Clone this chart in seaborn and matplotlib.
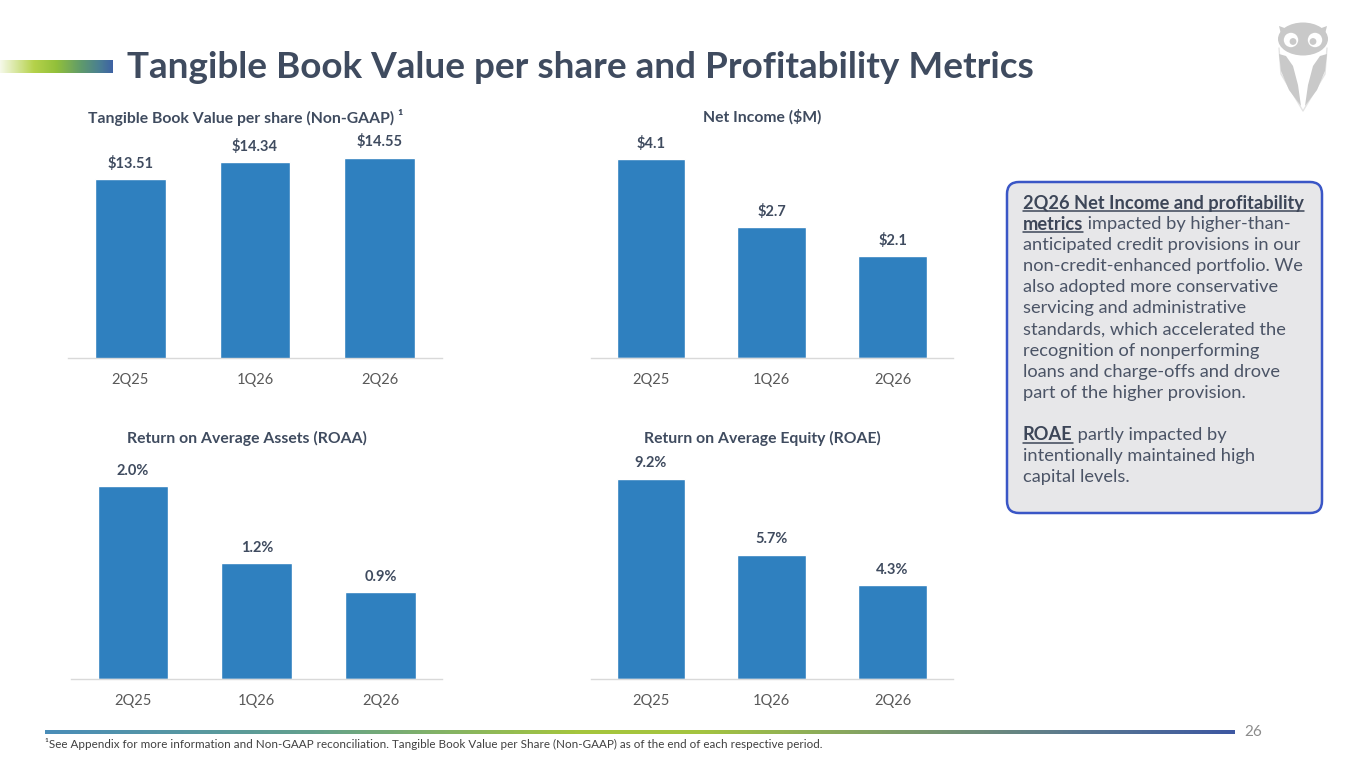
import numpy as np
import pandas as pd
import matplotlib
matplotlib.use('Agg')
import matplotlib.pyplot as plt
import seaborn as sns
from matplotlib.colors import LinearSegmentedColormap
from matplotlib.patches import FancyBboxPatch, Ellipse, Circle, Polygon
from matplotlib.lines import Line2D

# ---------------- data ----------------
periods = ['2Q25', '1Q26', '2Q26']
tbv_per_share = [13.51, 14.34, 14.55]
net_income = [4.1, 2.7, 2.1]
roaa = [2.0, 1.2, 0.9]
roae = [9.2, 5.7, 4.3]

panel_titles = ['Tangible Book Value per share (Non-GAAP) \u00b9',
                'Net Income ($M)',
                'Return on Average Assets (ROAA)',
                'Return on Average Equity (ROAE)']
label_formats = ['${:.2f}', '${:.1f}', '{:.1f}%', '{:.1f}%']

main_title = 'Tangible Book Value per share and Profitability Metrics'
footnote = ('\u00b9See Appendix for more information and Non-GAAP reconciliation. '
            'Tangible Book Value per Share (Non-GAAP) as of the end of each respective period.')
page_number = '26'

box_lines = [
    [('2Q26 Net Income and profitability', True)],
    [('metrics', True), (' impacted by higher-than-', False)],
    [('anticipated credit provisions in our', False)],
    [('non-credit-enhanced portfolio. We', False)],
    [('also adopted more conservative', False)],
    [('servicing and administrative', False)],
    [('standards, which accelerated the', False)],
    [('recognition of nonperforming', False)],
    [('loans and charge-offs and drove', False)],
    [('part of the higher provision.', False)],
    [],
    [('ROAE', True), (' partly impacted by', False)],
    [('intentionally maintained high', False)],
    [('capital levels.', False)],
]

# ---------------- style ----------------
W, H = 1365, 768
BAR = '#2F80BF'
DARK = '#3f4b5f'
TICK = '#595959'

sns.set_theme(style='white')
plt.rcParams['font.family'] = ['Lato', 'DejaVu Sans']

fig = plt.figure(figsize=(W / 100, H / 100), dpi=100)
fig.patch.set_facecolor('white')

bg = fig.add_axes([0, 0, 1, 1])
bg.set_xlim(0, W)
bg.set_ylim(H, 0)
bg.axis('off')
bg.patch.set_alpha(0)

renderer = fig.canvas.get_renderer()


def fit(t, target):
    for _ in range(3):
        w = t.get_window_extent(renderer).width
        t.set_fontsize(t.get_fontsize() * target / w)
    return t.get_fontsize()


def rect(l, r, top, bottom):
    return [l / W, 1 - bottom / H, (r - l) / W, (bottom - top) / H]


# ---------------- decorative gradients ----------------
top_cmap = LinearSegmentedColormap.from_list('top', [
    (0, '#f6f9ea'), (0.3, '#b5d24a'), (0.5, '#92c03a'), (0.72, '#5f9a6c'),
    (0.88, '#4a7f92'), (1, '#3e62a4')])
grad = np.linspace(0, 1, 256)[None, :]
bg.imshow(grad, cmap=top_cmap, extent=(0, 113, 73, 60), aspect='auto', zorder=1)

foot_cmap = LinearSegmentedColormap.from_list('foot', [
    (0, '#4a8db8'), (0.22, '#62a08e'), (0.45, '#a6c63c'), (0.55, '#a4c440'),
    (0.72, '#7d9c6a'), (0.87, '#5a7890'), (1, '#3d58a2')])
bg.imshow(grad, cmap=foot_cmap, extent=(45, 1235, 734, 730), aspect='auto', zorder=1)
bg.set_xlim(0, W)
bg.set_ylim(H, 0)

# ---------------- title & footer ----------------
t = bg.text(127, 78, main_title, fontsize=27, fontweight='bold', color=DARK,
            ha='left', va='baseline')
fit(t, 908)

fn = bg.text(45, 744, footnote, fontsize=7.5, color='#404040', ha='left', va='center')
fit(fn, 777)

bg.text(1244, 732, page_number, fontsize=11, color='#8c8c8c', ha='left', va='center')

# ---------------- owl logo ----------------
OWL = '#c9c9c9'
cx = 1303
bg.add_patch(Ellipse((cx, 39), 50, 33, fc=OWL, ec='none', zorder=2))
bg.add_patch(Polygon([(1279, 26), (1290, 30), (1282, 38)], closed=True, fc=OWL, ec='none', zorder=2))
bg.add_patch(Polygon([(2 * cx - 1279, 26), (2 * cx - 1290, 30), (2 * cx - 1282, 38)],
                     closed=True, fc=OWL, ec='none', zorder=2))
for ex in (1291, 2 * cx - 1291):
    bg.add_patch(Circle((ex, 40), 7.2, fc='white', ec='none', zorder=3))
bg.add_patch(Circle((1293, 41.5), 3.4, fc=OWL, ec='none', zorder=4))
bg.add_patch(Circle((2 * cx - 1293, 41.5), 3.4, fc=OWL, ec='none', zorder=4))
wing = [(1279, 54), (1281, 71), (1289, 90), (1301, 106), (1298, 85), (1293, 66), (1286, 56)]
bg.add_patch(Polygon(wing, closed=True, fc=OWL, ec='none', zorder=2))
bg.add_patch(Polygon([(2 * cx - x, y) for x, y in wing], closed=True, fc=OWL, ec='none', zorder=2))
bg.add_line(Line2D([1279, 1281, cx, 2 * cx - 1281, 2 * cx - 1279], [48, 74, 111, 74, 48],
                   color='#e4e4e4', lw=1, zorder=1))

# ---------------- text box ----------------
bg.add_patch(FancyBboxPatch((1007, 182), 315, 331, boxstyle='round,pad=0,rounding_size=12',
                            fc='#e7e7e9', ec='#3a56c6', lw=1.8, zorder=2))
probe = bg.text(1023, 300, 'non-credit-enhanced portfolio. We', fontsize=12)
box_fs = fit(probe, 280)
probe.remove()

y0, dy = 203, 21.08
for i, segs in enumerate(box_lines):
    y = y0 + i * dy
    x = 1023
    for txt, bold in segs:
        tt = bg.text(x, y, txt, fontsize=box_fs, fontweight='bold' if bold else 'normal',
                     color='#3d4658' if bold else '#4b5466', ha='left', va='center', zorder=3)
        bb = tt.get_window_extent(renderer)
        x1 = bb.x1
        if bold:
            bg.add_line(Line2D([x, x1], [y + 8, y + 8], color='#3d4658', lw=1.1, zorder=3))
        x = x1

# ---------------- charts ----------------
panels = [
    (tbv_per_share, rect(68.25, 441.75, 140, 358), (4.78, 15.42), (246, 117)),
    (net_income, rect(590.6, 952.9, 140, 358), (0, 4.495), (762, 117)),
    (roaa, rect(71.1, 442.4, 460, 679), (0, 2.27), (247, 438)),
    (roae, rect(590.6, 952.9, 460, 679), (0, 10.05), (762, 438)),
]

title_texts = []
for (vals, r, yl, tpos), title, fmt in zip(panels, panel_titles, label_formats):
    ax = fig.add_axes(r, facecolor='none')
    df = pd.DataFrame({'period': periods, 'value': vals})
    sns.barplot(data=df, x='period', y='value', ax=ax, color=BAR, width=0.57, saturation=1)
    ax.set_xlim(-0.5, 2.5)
    ax.set_ylim(*yl)
    for s in ('top', 'left', 'right'):
        ax.spines[s].set_visible(False)
    ax.spines['bottom'].set_color('#d9d9d9')
    ax.spines['bottom'].set_linewidth(1)
    ax.set_yticks([])
    ax.set_xlabel('')
    ax.set_ylabel('')
    ax.tick_params(axis='x', length=0, pad=11, labelsize=10.5, labelcolor=TICK)
    ax.bar_label(ax.containers[0], labels=[fmt.format(v) for v in vals], padding=6,
                 fontsize=10.5, fontweight='bold', color=DARK)
    title_texts.append(bg.text(tpos[0], tpos[1], title, fontsize=10.5, fontweight='bold',
                               color=DARK, ha='center', va='center'))

ts = fit(title_texts[2], 240)
for tt in title_texts:
    tt.set_fontsize(ts)

fig.savefig('out.png', dpi=100, facecolor='white')
